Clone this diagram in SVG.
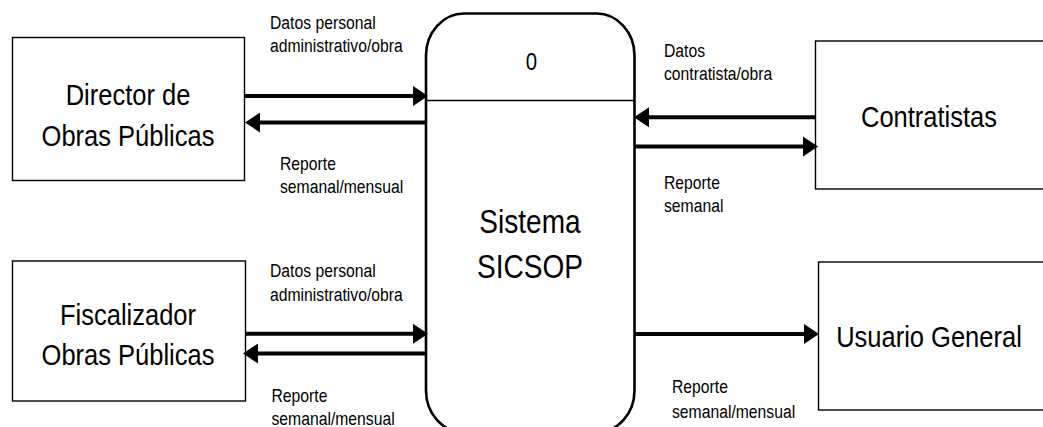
<svg xmlns="http://www.w3.org/2000/svg" width="1043" height="427" viewBox="0 0 1043 427">
  <style>
    text { font-family: "Liberation Sans", Arial, sans-serif; fill: #000; }
    .ent { fill: #fff; stroke: #000; stroke-width: 1.4; }
    .proc { fill: #fff; stroke: #000; stroke-width: 2.6; }
    .div { stroke: #000; stroke-width: 1.5; }
    .big { font-size: 30px; text-anchor: middle; }
    .sys { font-size: 33px; text-anchor: middle; }
    .num { font-size: 24px; text-anchor: middle; }
    .lbl { font-size: 18.5px; }
    .flow { stroke: #000; stroke-width: 4; fill: none; marker-end: url(#head); }
  </style>
  <defs>
    <marker id="head" markerUnits="userSpaceOnUse" markerWidth="16" markerHeight="20" refX="5" refY="10" orient="auto">
      <path d="M0,0 L15,10 L0,20 Z" fill="#000"/>
    </marker>
    <clipPath id="clipTL"><rect x="250" y="150" width="170" height="43"/></clipPath>
    <clipPath id="clipTR1"><rect x="650" y="35" width="160" height="46"/></clipPath>
    <clipPath id="clipTR2"><rect x="650" y="160" width="160" height="53"/></clipPath>
  </defs>

  <!-- external entities -->
  <g id="director">
    <rect class="ent" x="12.5" y="37.5" width="232" height="143"/>
    <text class="big" transform="translate(128 105) scale(0.85 1)"><tspan x="0" y="0">Director de</tspan><tspan x="0" y="41.5">Obras Públicas</tspan></text>
  </g>

  <g id="fiscalizador">
    <rect class="ent" x="12.5" y="261" width="233" height="140"/>
    <text class="big" transform="translate(128 325) scale(0.85 1)"><tspan x="0" y="0">Fiscalizador</tspan><tspan x="0" y="40">Obras Públicas</tspan></text>
  </g>

  <g id="contratistas">
    <rect class="ent" x="815.5" y="41" width="240" height="148"/>
    <text class="big" transform="translate(929 127) scale(0.85 1)">Contratistas</text>
  </g>

  <g id="usuario">
    <rect class="ent" x="818.5" y="262" width="240" height="148"/>
    <text class="big" transform="translate(929 347) scale(0.85 1)">Usuario General</text>
  </g>

  <!-- central process -->
  <g id="sistema">
    <rect class="proc" x="426" y="13.5" width="208.5" height="419" rx="38" ry="42"/>
    <line class="div" x1="426" y1="100.5" x2="634.5" y2="100.5"/>
    <text class="num" transform="translate(531.5 70) scale(0.85 1)">0</text>
    <text class="sys" transform="translate(530 232.5) scale(0.85 1)"><tspan x="0" y="0">Sistema</tspan><tspan x="0" y="46">SICSOP</tspan></text>
  </g>

  <!-- data flows -->
  <g id="connectors">
    <line class="flow" x1="245" y1="96" x2="418" y2="96"/>
    <line class="flow" x1="426" y1="122.5" x2="255" y2="122.5"/>
    <line class="flow" x1="815" y1="117.3" x2="644" y2="117.3"/>
    <line class="flow" x1="635" y1="146.6" x2="808" y2="146.6"/>
    <line class="flow" x1="245" y1="333.8" x2="418" y2="333.8"/>
    <line class="flow" x1="426" y1="353.5" x2="253" y2="353.5"/>
    <line class="flow" x1="635" y1="334" x2="809" y2="334"/>
  </g>

  <!-- flow labels -->
  <g id="labels">
    <text class="lbl" transform="translate(270 29) scale(0.85 1)"><tspan x="0" y="0">Datos personal</tspan><tspan x="0" y="23">administrativo/obra</tspan></text>
    <g clip-path="url(#clipTL)">
      <text class="lbl" transform="translate(280 169.5) scale(0.85 1)"><tspan x="0" y="0">Reporte</tspan><tspan x="0" y="23.5">semanal/mensual</tspan></text>
    </g>
    <g clip-path="url(#clipTR1)">
      <text class="lbl" transform="translate(664 56.5) scale(0.85 1)"><tspan x="0" y="0">Datos</tspan><tspan x="0" y="23.5">contratista/obra</tspan></text>
    </g>
    <g clip-path="url(#clipTR2)">
      <text class="lbl" transform="translate(664 188.5) scale(0.85 1)"><tspan x="0" y="0">Reporte</tspan><tspan x="0" y="23.5">semanal</tspan></text>
    </g>
    <text class="lbl" transform="translate(270 277) scale(0.85 1)"><tspan x="0" y="0">Datos personal</tspan><tspan x="0" y="24.5">administrativo/obra</tspan></text>
    <text class="lbl" transform="translate(271.5 402) scale(0.85 1)"><tspan x="0" y="0">Reporte</tspan><tspan x="0" y="23.5">semanal/mensual</tspan></text>
    <text class="lbl" transform="translate(672 393) scale(0.85 1)"><tspan x="0" y="0">Reporte</tspan><tspan x="0" y="25">semanal/mensual</tspan></text>
  </g>
</svg>
